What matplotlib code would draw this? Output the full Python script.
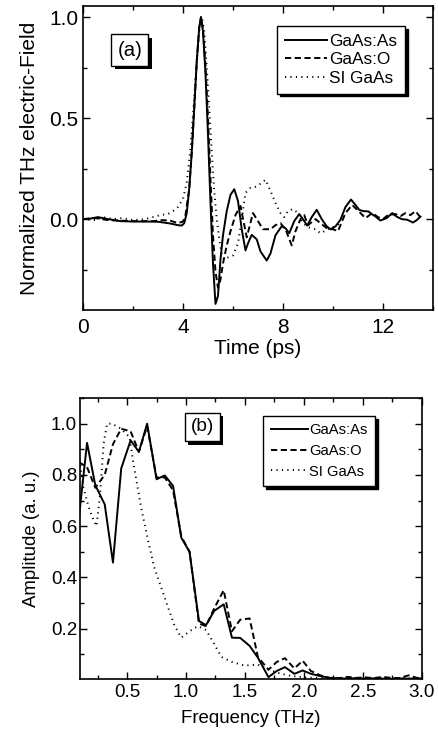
import matplotlib
matplotlib.use("Agg")
import matplotlib.pyplot as plt
import matplotlib.patheffects as pe
from matplotlib.ticker import MultipleLocator

plt.rcParams['font.family'] = ['Liberation Sans', 'DejaVu Sans']

# ---------------- Panel (a): time-domain THz field ----------------
t_as = [0, 0.3, 0.6, 1.0, 1.5, 2.0, 2.5, 3.0, 3.5, 3.8, 3.95, 4.05, 4.15, 4.25, 4.35,
        4.45, 4.55, 4.65, 4.72, 4.8, 4.9, 5.0, 5.1, 5.2, 5.3, 5.4, 5.5, 5.6, 5.75,
        5.9, 6.05, 6.2, 6.35, 6.5, 6.6, 6.75, 6.95, 7.1, 7.35, 7.5, 7.7, 7.95, 8.1,
        8.25, 8.45, 8.65, 8.8, 8.97, 9.15, 9.35, 9.55, 9.75, 9.9, 10.1, 10.3, 10.5,
        10.72, 10.9, 11.05, 11.2, 11.42, 11.55, 11.7, 11.9, 12.15, 12.37, 12.55,
        12.75, 12.97, 13.2, 13.35, 13.5]
e_as = [0.0, 0.003, 0.01, 0.0, -0.01, -0.012, -0.012, -0.013, -0.022, -0.03, -0.032,
        -0.02, 0.03, 0.15, 0.33, 0.55, 0.78, 0.95, 1.0, 0.93, 0.72, 0.42, 0.08, -0.22,
        -0.42, -0.38, -0.2, -0.08, 0.04, 0.12, 0.148, 0.09, -0.05, -0.155, -0.12,
        -0.078, -0.1, -0.16, -0.205, -0.17, -0.08, -0.035, -0.045, -0.07, -0.01, 0.025,
        0.0, -0.032, 0.01, 0.046, 0.0, -0.036, -0.05, -0.036, -0.003, 0.06, 0.097,
        0.07, 0.046, 0.04, 0.038, 0.025, 0.013, -0.007, 0.005, 0.03, 0.012, 0.0,
        -0.003, -0.017, -0.005, 0.012]

t_o = [0, 0.5, 1.0, 2.0, 2.8, 3.2, 3.5, 3.8, 4.0, 4.1, 4.25, 4.35, 4.45, 4.55, 4.65,
       4.72, 4.8, 4.9, 5.0, 5.1, 5.2, 5.3, 5.4, 5.5, 5.6, 5.75, 5.9, 6.1, 6.3, 6.55,
       6.8, 7.0, 7.2, 7.5, 7.7, 7.9, 8.1, 8.35, 8.5, 8.7, 8.85, 9.0, 9.3, 9.5, 9.8,
       10.0, 10.2, 10.5, 10.77, 11.1, 11.3, 11.57, 11.8, 12.0, 12.2, 12.5, 12.7, 12.9,
       13.1, 13.3, 13.5]
e_o = [0.0, 0.005, -0.005, -0.01, -0.01, -0.005, -0.008, -0.02, -0.012, 0.02, 0.15,
       0.33, 0.55, 0.78, 0.95, 1.0, 0.94, 0.76, 0.5, 0.2, -0.08, -0.26, -0.34, -0.3,
       -0.22, -0.13, -0.06, 0.02, 0.065, -0.09, 0.03, -0.01, -0.05, -0.05, -0.03,
       -0.02, -0.05, -0.13, -0.06, 0.0, 0.02, -0.03, 0.0, -0.02, -0.05, -0.05, -0.06,
       0.03, 0.07, 0.03, 0.005, 0.03, 0.01, 0.0, 0.02, 0.025, 0.015, 0.03, 0.02,
       0.04, 0.008]

t_si = [0, 0.5, 0.8, 1.2, 1.6, 2.0, 2.5, 2.8, 3.1, 3.4, 3.6, 3.8, 4.0, 4.15, 4.3,
        4.45, 4.55, 4.65, 4.75, 4.85, 4.95, 5.05, 5.15, 5.25, 5.35, 5.45, 5.55, 5.65,
        5.8, 6.0, 6.2, 6.35, 6.5, 6.7, 6.9, 7.1, 7.3, 7.5, 7.7, 7.9, 8.05, 8.2, 8.4,
        8.6, 8.8, 9.0, 9.3, 9.5, 9.8, 10.0, 10.3]
e_si = [0.0, -0.005, 0.01, 0.0, 0.005, -0.005, 0.0, 0.01, 0.02, 0.025, 0.04, 0.06,
        0.1, 0.18, 0.35, 0.6, 0.78, 0.93, 1.0, 0.93, 0.75, 0.55, 0.33, 0.14, 0.0,
        -0.1, -0.17, -0.2, -0.19, -0.18, -0.12, 0.0, 0.13, 0.155, 0.16, 0.175, 0.195,
        0.14, 0.08, 0.03, 0.01, 0.04, 0.05, 0.03, -0.02, -0.04, -0.05, -0.07, -0.05,
        -0.04, -0.02]

# ---------------- Panel (b): amplitude spectra ----------------
f_b = [0.09, 0.16, 0.23, 0.31, 0.38, 0.45, 0.53, 0.60, 0.67, 0.75, 0.82, 0.89, 0.96,
       1.03, 1.11, 1.17, 1.24, 1.32, 1.39, 1.46, 1.54, 1.61, 1.70, 1.77, 1.84, 1.92,
       1.99, 2.06, 2.14, 2.22, 2.30, 2.37, 2.44, 2.52, 2.59, 2.67, 2.74, 2.81, 2.89,
       2.96, 3.03]
a_as = [0.63, 0.925, 0.76, 0.685, 0.458, 0.825, 0.935, 0.89, 1.0, 0.783, 0.798, 0.757,
        0.555, 0.50, 0.23, 0.214, 0.27, 0.295, 0.165, 0.164, 0.133, 0.087, 0.011,
        0.035, 0.05, 0.024, 0.037, 0.024, 0.015, 0.008, 0.006, 0.005, 0.007, 0.005,
        0.006, 0.005, 0.004, 0.006, 0.005, 0.006, 0.005]
a_o = [0.85, 0.83, 0.75, 0.80, 0.92, 0.98, 0.97, 0.89, 0.99, 0.79, 0.79, 0.74, 0.56,
       0.50, 0.22, 0.21, 0.28, 0.35, 0.19, 0.235, 0.24, 0.09, 0.04, 0.07, 0.085, 0.045,
       0.075, 0.035, 0.018, 0.008, 0.007, 0.012, 0.008, 0.010, 0.007, 0.012, 0.008,
       0.007, 0.018, 0.008, 0.008]
f_si = [0.09, 0.13, 0.17, 0.20, 0.24, 0.27, 0.30, 0.33, 0.37, 0.41, 0.45, 0.49, 0.52,
        0.55, 0.59, 0.62, 0.68, 0.73, 0.79, 0.85, 0.90, 0.96, 1.03, 1.10, 1.17, 1.24,
        1.30, 1.39, 1.50, 1.61, 1.70, 1.80, 1.90, 2.00, 2.10, 2.20, 2.40, 2.60, 2.80,
        3.03]
a_si = [0.88, 0.75, 0.68, 0.64, 0.60, 0.72, 0.92, 1.0, 1.0, 0.99, 0.98, 0.96, 0.95,
        0.855, 0.75, 0.67, 0.54, 0.44, 0.36, 0.28, 0.215, 0.165, 0.19, 0.21, 0.195,
        0.14, 0.09, 0.07, 0.056, 0.06, 0.04, 0.025, 0.015, 0.01, 0.008, 0.006, 0.005,
        0.005, 0.006, 0.005]

labels = ['GaAs:As', 'GaAs:O', 'SI GaAs']

fig = plt.figure(figsize=(4.38, 7.36), dpi=100)
ax1 = fig.add_axes([0.1895, 0.5788, 0.799, 0.413])
ax2 = fig.add_axes([0.1826, 0.0779, 0.780, 0.3813])

lw = 1.4
dash = (0, (3.2, 1.8))
dot = (0, (0.6, 2.2))


def style_axes(ax, fs, xpad, ypad):
    for s in ax.spines.values():
        s.set_linewidth(1.2)
    ax.tick_params(which='both', direction='in', top=True, right=True,
                   width=1.0, labelsize=fs)
    ax.tick_params(which='major', length=5)
    ax.tick_params(which='minor', length=3)
    ax.tick_params(axis='x', which='major', pad=xpad)
    ax.tick_params(axis='y', which='major', pad=ypad)


def boxed_label(ax, x, y, s, fs):
    txt = ax.text(x, y, s, transform=ax.transAxes, fontsize=fs, ha='center',
                  va='center', zorder=5,
                  bbox=dict(boxstyle='square,pad=0.3', fc='white', ec='black', lw=1.0))
    txt.get_bbox_patch().set_path_effects(
        [pe.SimplePatchShadow(offset=(2.5, -2.5), shadow_rgbFace='black', alpha=1.0),
         pe.Normal()])


# Panel (a)
ax1.plot(t_as, e_as, color='black', lw=lw, ls='-', label=labels[0])
ax1.plot(t_o, e_o, color='black', lw=lw, ls=dash, label=labels[1])
ax1.plot(t_si, e_si, color='black', lw=lw, ls=dot, label=labels[2])
ax1.set_xlim(0, 14)
ax1.set_ylim(-0.45, 1.055)
ax1.xaxis.set_minor_locator(MultipleLocator(2))
ax1.yaxis.set_minor_locator(MultipleLocator(0.25))
ax1.set_xticks([0, 4, 8, 12])
ax1.set_xticklabels(['0', '4', '8', '12'])
ax1.set_yticks([0.0, 0.5, 1.0])
ax1.set_yticklabels(['0.0', '0.5', '1.0'])
style_axes(ax1, 15, 5.5, 3.5)
ax1.set_xlabel('Time (ps)', fontsize=15, labelpad=2)
ax1.set_ylabel('Normalized THz electric-Field', fontsize=15, labelpad=7)
leg1 = ax1.legend(loc='upper right', bbox_to_anchor=(0.92, 0.934), borderaxespad=0,
                  fontsize=12.4, handlelength=2.45, handletextpad=0.12,
                  labelspacing=0.2, fancybox=False, edgecolor='black', framealpha=1,
                  shadow={'color': 'black', 'alpha': 1.0}, borderpad=0.45)
leg1.get_frame().set_linewidth(1.0)
boxed_label(ax1, 0.134, 0.855, '(a)', 14.7)

# Panel (b)
ax2.plot(f_b, a_as, color='black', lw=lw, ls='-', label=labels[0])
ax2.plot(f_b, a_o, color='black', lw=lw, ls=dash, label=labels[1])
ax2.plot(f_si, a_si, color='black', lw=lw, ls=dot, label=labels[2])
ax2.set_xlim(0.1, 3.0)
ax2.set_ylim(0.005, 1.1)
ax2.set_xticks([0.5, 1.0, 1.5, 2.0, 2.5, 3.0])
ax2.set_xticklabels(['0.5', '1.0', '1.5', '2.0', '2.5', '3.0'])
ax2.xaxis.set_minor_locator(MultipleLocator(0.25))
ax2.set_yticks([0.2, 0.4, 0.6, 0.8, 1.0])
ax2.set_yticklabels(['0.2', '0.4', '0.6', '0.8', '1.0'])
ax2.yaxis.set_minor_locator(MultipleLocator(0.1))
style_axes(ax2, 13.6, 3.5, 2.0)
ax2.set_xlabel('Frequency (THz)', fontsize=13.4, labelpad=7)
ax2.set_ylabel('Amplitude (a. u.)', fontsize=13.4, labelpad=8)
leg2 = ax2.legend(loc='upper right', bbox_to_anchor=(0.863, 0.936), borderaxespad=0,
                  fontsize=10.6, handlelength=2.5, handletextpad=0.1,
                  labelspacing=0.45, fancybox=False, edgecolor='black', framealpha=1,
                  shadow={'color': 'black', 'alpha': 1.0}, borderpad=0.5)
leg2.get_frame().set_linewidth(1.0)
boxed_label(ax2, 0.358, 0.897, '(b)', 13.7)

fig.savefig('out.png', dpi=100)
